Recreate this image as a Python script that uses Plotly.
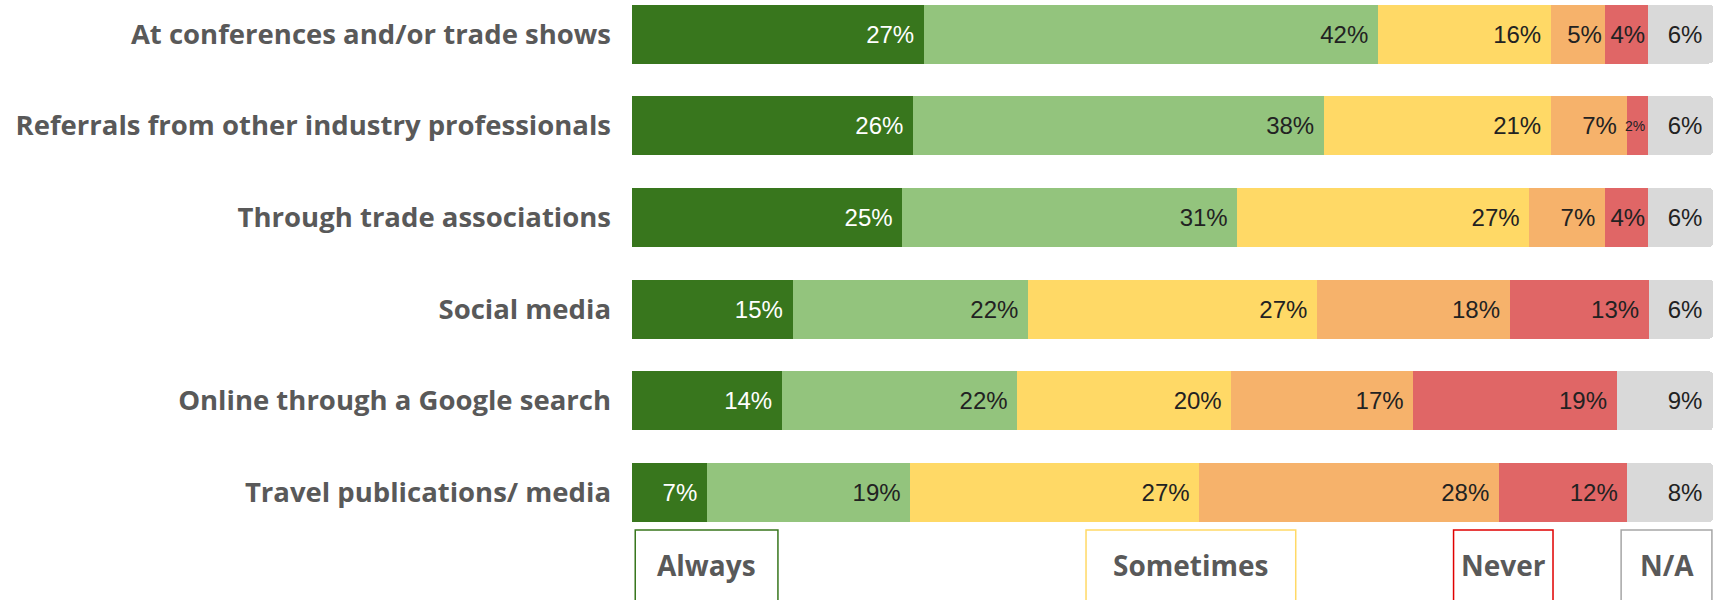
import plotly.graph_objects as go

# Survey: how respondents find new partners/suppliers, by channel
categories = [
    "At conferences and/or trade shows",
    "Referrals from other industry professionals",
    "Through trade associations",
    "Social media",
    "Online through a Google search",
    "Travel publications/ media",
]

always = [27, 26, 25, 15, 14, 7]
often = [42, 38, 31, 22, 22, 19]
sometimes = [16, 21, 27, 27, 20, 27]
rarely = [5, 7, 7, 18, 17, 28]
never = [4, 2, 4, 13, 19, 12]
not_applicable = [6, 6, 6, 6, 9, 8]

series = [
    ("Always", always, "#38761d", "#ffffff"),
    ("Often", often, "#93c47d", "#222222"),
    ("Sometimes", sometimes, "#ffd966", "#222222"),
    ("Rarely", rarely, "#f6b26b", "#222222"),
    ("Never", never, "#e06666", "#222222"),
    ("N/A", not_applicable, "#d9d9d9", "#222222"),
]

# Legend boxes under the chart: label, x-span (percent axis), border colour
legend_labels = ["Always", "Sometimes", "Never", "N/A"]
legend_spans = [(0.3, 13.5), (42.0, 61.4), (76.0, 85.2), (91.5, 99.9)]
legend_colors = ["#38761d", "#ffd966", "#e00000", "#a6a6a6"]

fig = go.Figure()

NBSP = "\u00a0"
for name, values, color, txtcolor in series:
    texts = []
    sizes = []
    for v in values:
        pad = NBSP if v >= 6 else ""
        texts.append(f"{v}%{pad}")
        sizes.append(24 if v >= 3 else 14)
    fig.add_trace(go.Bar(
        name=name,
        y=categories,
        x=values,
        orientation="h",
        marker=dict(color=color, line=dict(width=0)),
        text=texts,
        textposition="inside",
        insidetextanchor="end",
        textangle=0,
        constraintext="none",
        textfont=dict(family="Liberation Sans, Arial, sans-serif",
                      size=sizes, color=txtcolor),
        hoverinfo="skip",
    ))

for label, (x0, x1), col in zip(legend_labels, legend_spans, legend_colors):
    fig.add_shape(type="rect", xref="x", yref="paper",
                  x0=x0, x1=x1, y0=1 - 530 / 600, y1=-0.2,
                  line=dict(color=col, width=1.5), fillcolor="rgba(0,0,0,0)")
    fig.add_annotation(xref="x", yref="paper", x=(x0 + x1) / 2,
                       y=1 - 565 / 600, text=label, showarrow=False,
                       font=dict(family="Open Sans", size=28, color="#595959",
                                 weight="bold"),
                       xanchor="center", yanchor="middle")

fig.update_layout(
    barmode="stack",
    barnorm="percent",
    bargap=0.357,
    barcornerradius=4,
    width=1716,
    height=600,
    margin=dict(l=632, r=3, t=0, b=0),
    paper_bgcolor="white",
    plot_bgcolor="white",
    showlegend=False,
    xaxis=dict(range=[0, 100], visible=False, fixedrange=True),
    yaxis=dict(
        type="category",
        range=[6.172, -0.371],
        showgrid=False,
        showline=False,
        zeroline=False,
        ticks="",
        ticklabelstandoff=20,
        tickfont=dict(family="Open Sans", size=27.5, color="#595959",
                      weight="bold"),
        fixedrange=True,
    ),
)

fig.write_html("out.html")
